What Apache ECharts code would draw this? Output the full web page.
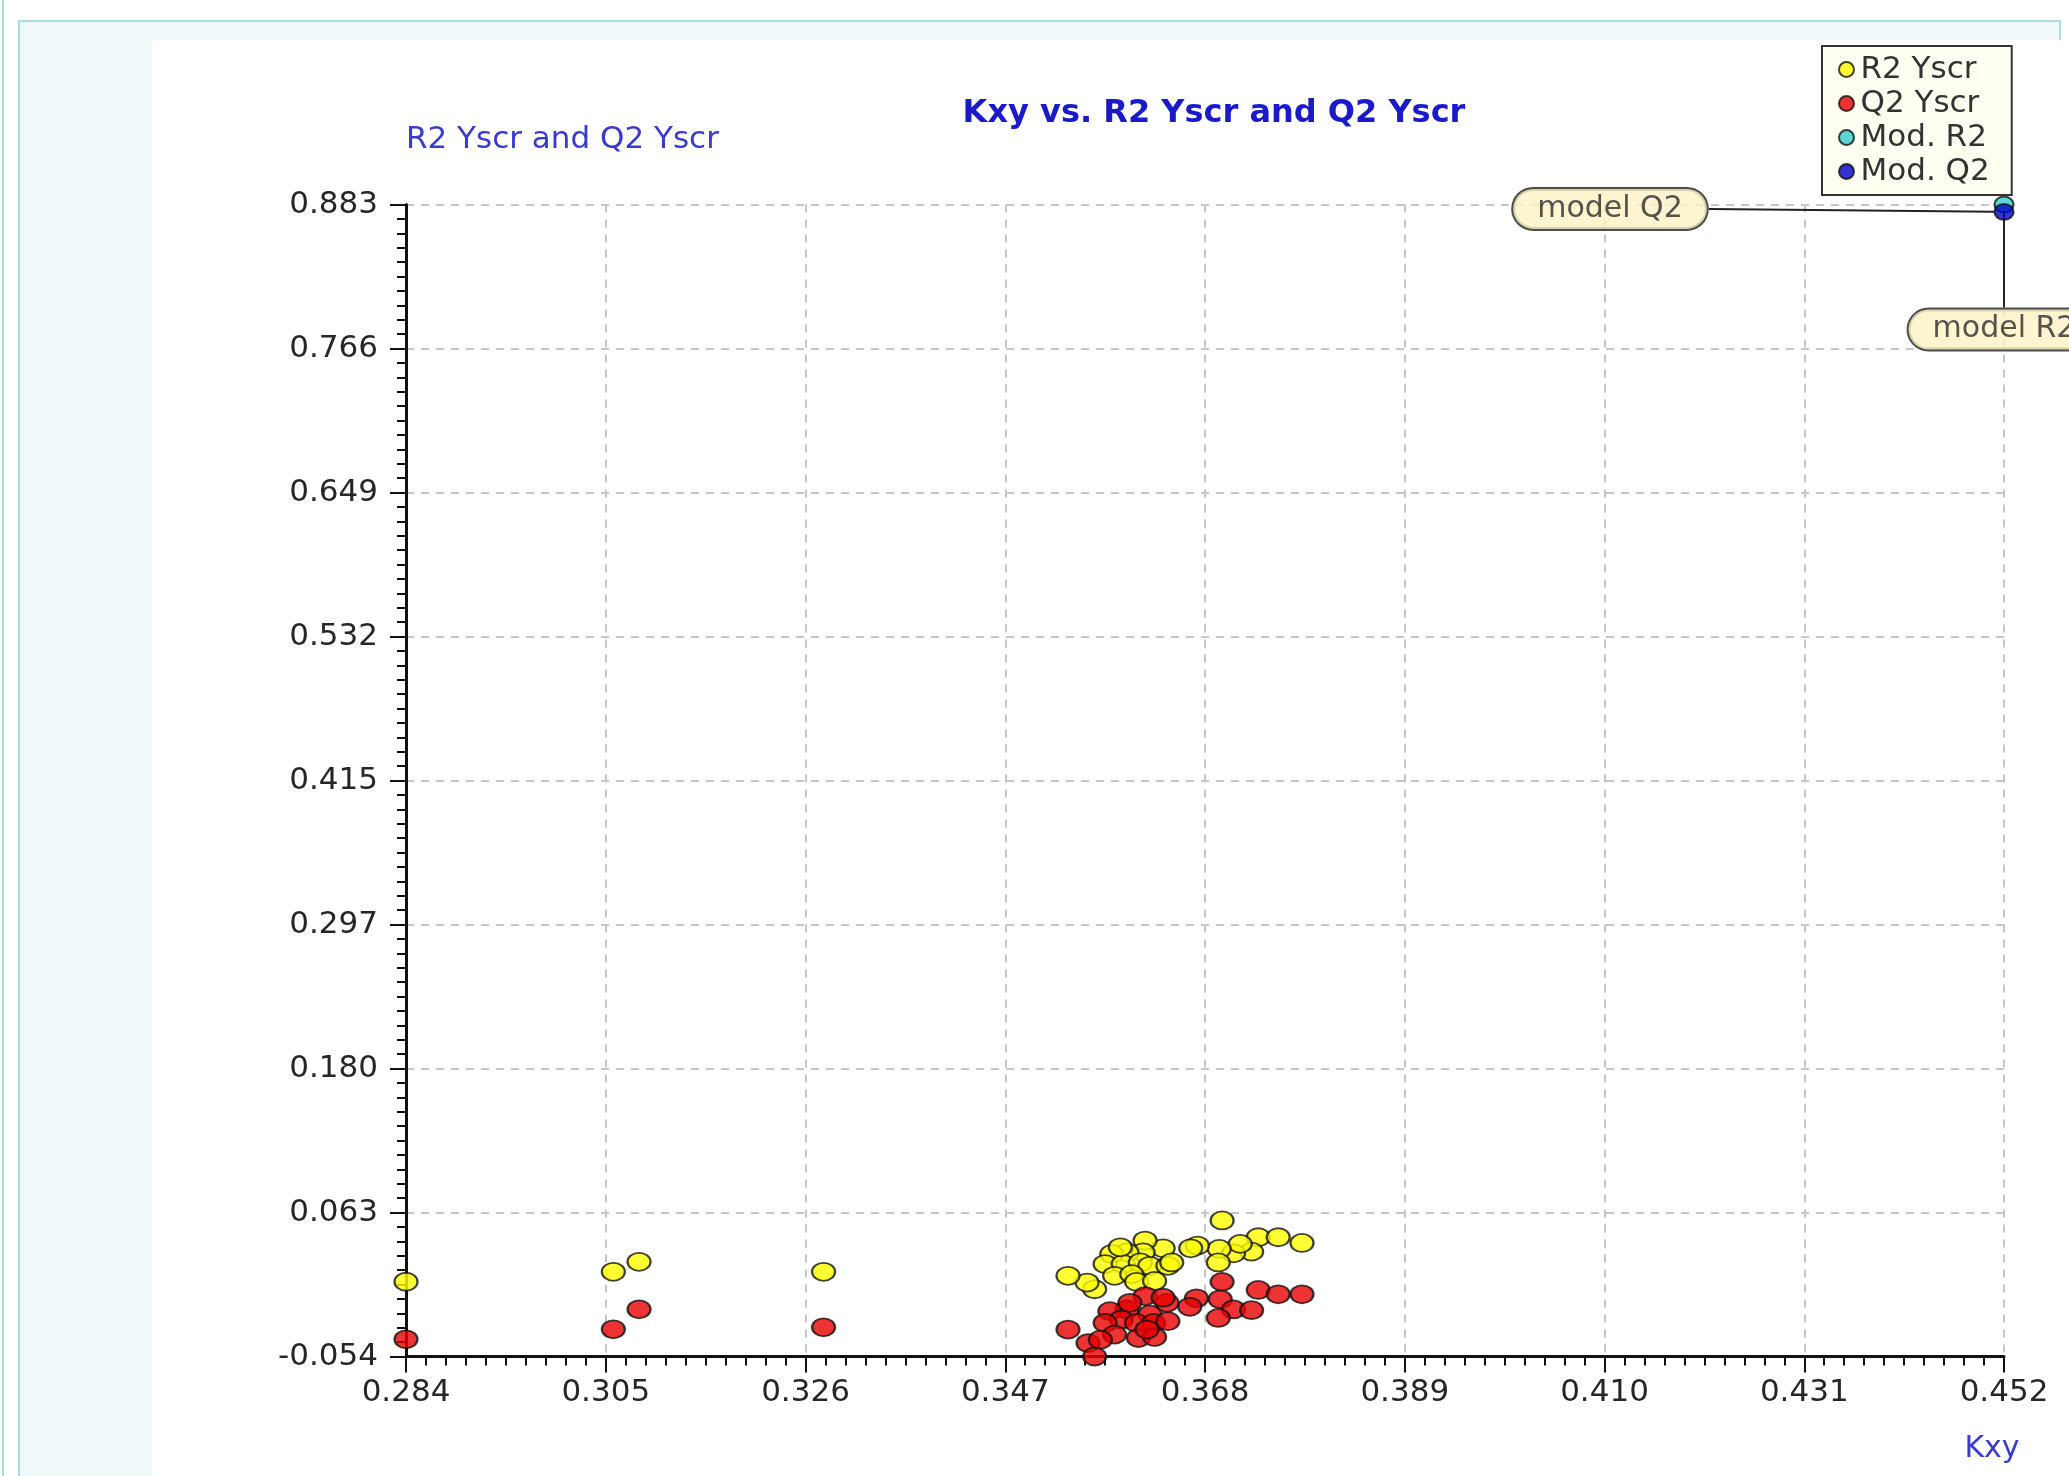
<!DOCTYPE html>
<html>
<head>
<meta charset="utf-8">
<title>Kxy vs. R2 Yscr and Q2 Yscr</title>
<script src="https://cdn.jsdelivr.net/npm/echarts@6/dist/echarts.min.js"></script>
<style>
  html, body { margin: 0; padding: 0; background: #ffffff; }
  #chart { width: 2069px; height: 1476px; }
</style>
</head>
<body>
<div id="chart"></div>
<script>
// Axis tick labels (as printed on the axes)
const xTickLabels = ['0.284', '0.305', '0.326', '0.347', '0.368', '0.389', '0.410', '0.431', '0.452'];
const yTickLabels = ['-0.054', '0.063', '0.180', '0.297', '0.415', '0.532', '0.649', '0.766', '0.883'];

// Permuted-response results: Kxy against R2 of the scrambled Y
const r2Kxy = [
  0.2840, 0.3058, 0.3085, 0.3279,
  0.3698, 0.3736, 0.3757, 0.3782, 0.3729, 0.3710, 0.3717, 0.3695, 0.3694, 0.3672,
  0.3665, 0.3636, 0.3617, 0.3615, 0.3598, 0.3582, 0.3575, 0.3594, 0.3612, 0.3622,
  0.3641, 0.3585, 0.3603, 0.3608, 0.3627, 0.3564, 0.3556, 0.3536, 0.3591, 0.3645
];
const r2Yscr = [
  0.0068, 0.0149, 0.0230, 0.0149,
  0.0567, 0.0430, 0.0430, 0.0384, 0.0313, 0.0299, 0.0376, 0.0335, 0.0225, 0.0362,
  0.0340, 0.0340, 0.0403, 0.0307, 0.0307, 0.0294, 0.0212, 0.0212, 0.0225, 0.0198,
  0.0198, 0.0116, 0.0130, 0.0067, 0.0075, 0.0007, 0.0061, 0.0116, 0.0348, 0.0225
];

// Kxy against Q2 of the scrambled Y
const q2Kxy = [
  0.2840, 0.3058, 0.3085, 0.3279,
  0.3698, 0.3736, 0.3757, 0.3782, 0.3696, 0.3710, 0.3729, 0.3694, 0.3671, 0.3664,
  0.3640, 0.3622, 0.3617, 0.3598, 0.3580, 0.3592, 0.3575, 0.3608, 0.3626, 0.3641,
  0.3585, 0.3610, 0.3627, 0.3536, 0.3557, 0.3564, 0.3601, 0.3636, 0.3570, 0.3619
];
const q2Yscr = [
  -0.0400, -0.0319, -0.0156, -0.0303,
  0.0067, 0.0001, -0.0034, -0.0034, -0.0075, -0.0157, -0.0163, -0.0226, -0.0067, -0.0136,
  -0.0103, -0.0198, -0.0048, -0.0157, -0.0171, -0.0239, -0.0267, -0.0267, -0.0267, -0.0253,
  -0.0362, -0.0390, -0.0382, -0.0321, -0.0431, -0.0540, -0.0103, -0.0062, -0.0403, -0.0321
];

// Unscrambled model
const modelKxy = [0.452];
const modelR2 = [0.883];
const modelQ2 = [0.877];

const seriesNames = ['R2 Yscr', 'Q2 Yscr', 'Mod. R2', 'Mod. Q2'];

const xMin = 0.284, xMax = 0.452;
const yMin = -0.054, yMax = 0.883;
const tickCount = 8;

const FONT = 'DejaVu Sans';

function toPoints(xs, ys) {
  return xs.map((x, i) => [x, ys[i]]);
}

function tickLabel(list, min, max) {
  return function (value, index) {
    const step = (max - min) / tickCount;
    const k = Math.round((value - min) / step);
    return list[k] !== undefined ? list[k] : list[index];
  };
}

const dotBorder = { borderColor: '#111111', borderWidth: 2 };

const bubbleLabel = {
  show: true,
  position: 'inside',
  fontFamily: FONT,
  fontSize: 30,
  lineHeight: 32,
  color: '#2a2a2a',
  backgroundColor: '#fcf3c4',
  borderColor: '#222222',
  borderWidth: 2,
  borderRadius: 20,
  padding: [4, 24, 4, 24]
};

const chart = echarts.init(document.getElementById('chart'), null, { renderer: 'canvas' });

chart.setOption({
  backgroundColor: '#ffffff',
  animation: false,
  graphic: [
    { type: 'rect', z: -100, silent: true, shape: { x: 2, y: 0, width: 2, height: 1476 }, style: { fill: '#a9dede' } },
    { type: 'rect', z: -100, silent: true, shape: { x: 19, y: 21, width: 2041, height: 1480 }, style: { fill: '#eff9f9', stroke: '#a9dede', lineWidth: 2 } },
    { type: 'rect', z: -99, silent: true, shape: { x: 152, y: 40, width: 1917, height: 1436 }, style: { fill: '#ffffff' } }
  ],
  title: {
    text: 'Kxy vs. R2 Yscr and Q2 Yscr',
    left: 1214,
    top: 98,
    textAlign: 'center',
    padding: 0,
    textStyle: { fontFamily: FONT, fontSize: 32, fontWeight: 'bold', color: '#1a1acb' }
  },
  legend: {
    orient: 'vertical',
    left: 1822,
    top: 46,
    padding: [8, 22, 8, 16],
    itemGap: 3,
    itemWidth: 18,
    itemHeight: 15,
    icon: 'circle',
    backgroundColor: '#fffff2',
    borderColor: '#333333',
    borderWidth: 2,
    borderRadius: 0,
    selectedMode: false,
    textStyle: { fontFamily: FONT, fontSize: 31, lineHeight: 30, color: '#333333' },
    data: seriesNames
  },
  grid: {
    left: 406,
    right: 65,
    top: 204.5,
    bottom: 119.5,
    outerBoundsMode: 'none'
  },
  xAxis: {
    type: 'value',
    min: xMin,
    max: xMax,
    interval: (xMax - xMin) / tickCount,
    name: 'Kxy',
    nameLocation: 'end',
    nameGap: -12,
    nameTextStyle: { fontFamily: FONT, fontSize: 30, color: '#3a3ad0', align: 'center', verticalAlign: 'top', padding: [78, 0, 0, 0] },
    axisLine: { onZero: false, lineStyle: { color: '#111111', width: 3 } },
    axisTick: { show: true, length: 16, lineStyle: { color: '#111111', width: 2 } },
    minorTick: { show: true, splitNumber: 10, length: 9, lineStyle: { color: '#111111', width: 2 } },
    axisLabel: { margin: 21, fontFamily: FONT, fontSize: 31, color: '#262626', formatter: tickLabel(xTickLabels, xMin, xMax) },
    splitLine: { show: true, lineStyle: { color: '#c6c6c6', width: 2, type: [8, 7] } },
    minorSplitLine: { show: false }
  },
  yAxis: {
    type: 'value',
    min: yMin,
    max: yMax,
    interval: (yMax - yMin) / tickCount,
    name: 'R2 Yscr and Q2 Yscr',
    nameLocation: 'end',
    nameGap: 65,
    nameTextStyle: { fontFamily: FONT, fontSize: 31, color: '#3a3ad0', align: 'left', verticalAlign: 'middle' },
    axisLine: { onZero: false, lineStyle: { color: '#111111', width: 3 } },
    axisTick: { show: true, length: 16, lineStyle: { color: '#111111', width: 2 } },
    minorTick: { show: true, splitNumber: 10, length: 9, lineStyle: { color: '#111111', width: 2 } },
    axisLabel: { margin: 28, fontFamily: FONT, fontSize: 31, color: '#262626', formatter: tickLabel(yTickLabels, yMin, yMax) },
    splitLine: { show: true, lineStyle: { color: '#c6c6c6', width: 2, type: [8, 7] } },
    minorSplitLine: { show: false }
  },
  series: [
    {
      name: seriesNames[0],
      type: 'scatter',
      clip: false,
      symbol: 'circle',
      symbolSize: [23, 18],
      itemStyle: Object.assign({ color: '#ffff00' }, dotBorder),
      data: toPoints(r2Kxy, r2Yscr)
    },
    {
      name: seriesNames[1],
      type: 'scatter',
      clip: false,
      symbol: 'circle',
      symbolSize: [23, 18],
      itemStyle: Object.assign({ color: '#e80000' }, dotBorder),
      data: toPoints(q2Kxy, q2Yscr)
    },
    {
      name: seriesNames[2],
      type: 'scatter',
      clip: false,
      symbol: 'circle',
      symbolSize: [19, 16],
      itemStyle: Object.assign({ color: '#33cccc' }, dotBorder),
      label: Object.assign({ formatter: 'model R2' }, bubbleLabel),
      labelLayout: { dx: 0, dy: 125 },
      labelLine: { show: true, lineStyle: { color: '#222222', width: 2 } },
      data: toPoints(modelKxy, modelR2)
    },
    {
      name: seriesNames[3],
      type: 'scatter',
      clip: false,
      symbol: 'circle',
      symbolSize: [19, 16],
      itemStyle: Object.assign({ color: '#0000c8' }, dotBorder),
      label: Object.assign({ formatter: 'model Q2' }, bubbleLabel),
      labelLayout: { dx: -394, dy: -3 },
      labelLine: { show: true, lineStyle: { color: '#222222', width: 2 } },
      data: toPoints(modelKxy, modelQ2)
    }
  ]
});
</script>
</body>
</html>
